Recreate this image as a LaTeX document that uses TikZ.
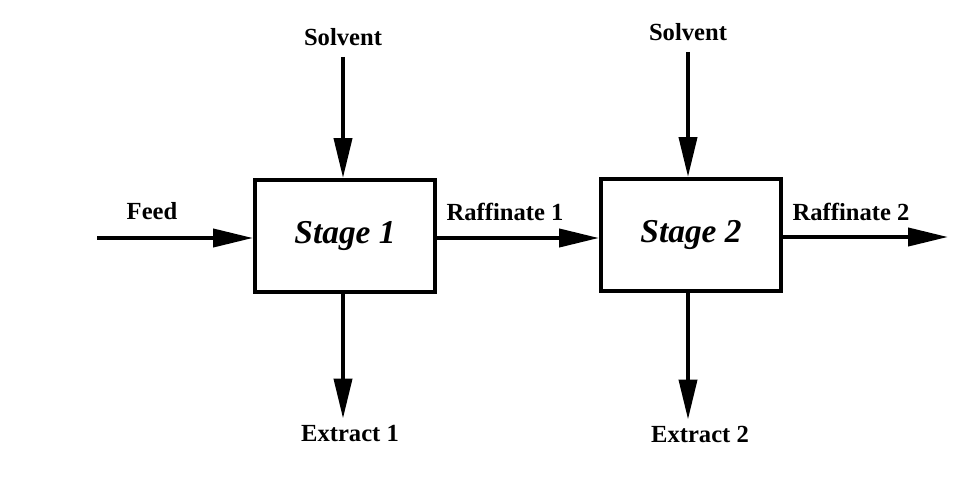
\documentclass[tikz,border=0pt]{standalone}
\usepackage{fontspec}
\setmainfont{Liberation Serif}
\usepackage{tikz}
\usetikzlibrary{arrows.meta,positioning}
\tikzset{stagebox/.style={draw=black,line width=0.08cm,minimum width=3.6cm,minimum height=2.24cm,font=\fontsize{19}{22}\selectfont\bfseries\itshape},
  lbl/.style={font=\fontsize{14}{16}\selectfont\bfseries},
  flow/.style={-{Triangle[length=0.8cm,width=0.36cm]},line width=0.08cm}}

\begin{document}
\begin{tikzpicture}[x=0.02cm,y=-0.02cm]
\useasboundingbox (0,0) rectangle (976,483);
% \draw[help lines] (0,0) grid[step=50] (976,483);
\node (s1) [stagebox] at (345,236) {Stage 1};
\node (s2) [stagebox] at (691,235) {Stage 2};
%
\node (feed) [lbl] at (152,211) {Feed};
\node (raf1) [lbl] at (505,212) {Raffinate 1};
\node (raf2) [lbl] at (851,212) {Raffinate 2};
\node (sol1) [lbl] at (343,37) {Solvent};
\node (sol2) [lbl] at (688,32) {Solvent};
\node (ex1) [lbl] at (350,433) {Extract 1};
\node (ex2) [lbl] at (700,434) {Extract 2};
\coordinate (in) at (97,238);
\coordinate (out) at (948,237);
%
\path[flow](in) edge (s1.west |- in);
\path[flow](s1.east |- in) edge (s2.west |- in);
\path[flow](s2.east |- out) edge (out);
\path[flow,shorten <=0.1cm](sol1) edge (sol1 |- s1.north);
\path[flow,shorten <=0.1cm](sol2) edge (sol2 |- s2.north);
\path[flow](s1.south -| sol1) edge (ex1.north -| sol1);
\path[flow](s2.south -| sol2) edge (ex2.north -| sol2);
\end{tikzpicture}
\end{document}
